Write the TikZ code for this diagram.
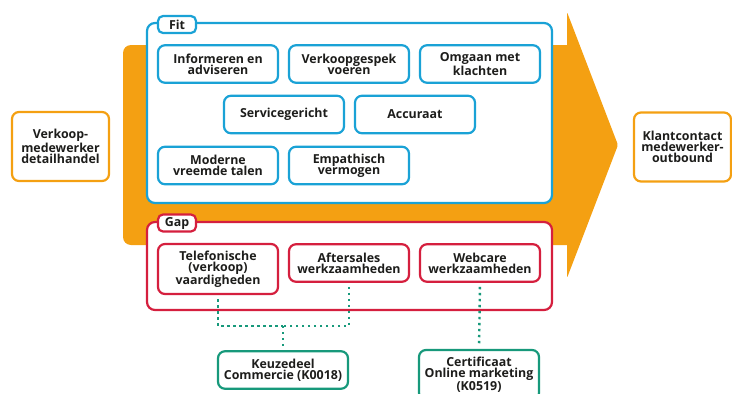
\documentclass[tikz,border=0pt]{standalone}
\usepackage{fontspec}
\setmainfont{Open Sans}
\usetikzlibrary{positioning}

\definecolor{arroworange}{HTML}{F4A012}
\definecolor{fitblue}{HTML}{1AA2D6}
\definecolor{gapred}{HTML}{D51F3E}
\definecolor{linkgreen}{HTML}{17997B}
\definecolor{textdark}{HTML}{1D1D1B}

\begin{document}
\begin{tikzpicture}[x=1pt,y=-1pt,node distance=8.8pt,
    every node/.style={font=\fontsize{12.4}{11}\selectfont\bfseries,text=textdark,align=center},
    box/.style={draw,rounded corners=7pt,line width=2.2pt,fill=white,inner sep=1pt},
    fit box/.style={box,draw=fitblue,minimum width=120pt,minimum height=37.5pt},
    gap box/.style={box,draw=gapred,minimum width=120pt,minimum height=37.5pt},
    link box/.style={box,draw=linkgreen,minimum width=120pt,minimum height=37.5pt},
    role box/.style={box,draw=arroworange,minimum width=97pt,minimum height=69pt},
    tab/.style={box,rounded corners=5pt,minimum width=38pt,minimum height=17pt},
    frame/.style={draw,rounded corners=8pt,line width=2.2pt,fill=white},
    dotline/.style={draw=linkgreen,line width=2.4pt,dash pattern=on 2.4pt off 3.6pt,shorten <=4pt}]
    \useasboundingbox (0,0) rectangle (732,394);
    \begin{scope}
    \clip (0,0) rectangle (732,394);

    % arrow
    \fill[arroworange,rounded corners=8pt] (123,45) rectangle (575,245);
    \fill[arroworange,rounded corners=2pt] (567,12) -- (618,145) -- (567,278) -- cycle;

    % fit / gap frames
    \draw[frame,draw=fitblue] (147,23) rectangle (552,203);
    \draw[frame,draw=gapred] (147,222) rectangle (552,310);
    \node[tab,draw=fitblue] (fit) at (177,24.5) {Fit};
    \node[tab,draw=gapred] (gap) at (177,223) {Gap};

    % fit
    \node[fit box] (inform) at (218,64) {Informeren en\\adviseren};
    \node[fit box,right=of inform] (gesprek) {Verkoopgespek\\voeren};
    \node[fit box,right=of gesprek] (klacht) {Omgaan met\\klachten};
    \node[fit box] (service) at (284,114.5) {Servicegericht};
    \node[fit box,right=of service] (accuraat) {Accuraat};
    \node[fit box] (talen) at (218,165.5) {Moderne\\vreemde talen};
    \node[fit box,right=of talen] (empath) {Empathisch\\vermogen};

    % gap
    \node[gap box,minimum height=50pt] (telefoon) at (218,269) {Telefonische\\(verkoop)\\vaardigheden};
    \node[gap box] (aftersales) at (349,263) {Aftersales\\werkzaamheden};
    \node[gap box,right=of aftersales] (webcare) {Webcare\\werkzaamheden};

    % keuzedelen
    \node[link box,minimum width=130pt] (keuze) at (283,370) {Keuzedeel\\Commercie (K0018)};
    \node[link box,minimum height=50pt] (certif) at (479,375) {Certificaat\\Online marketing\\(K0519)};
    \coordinate (split) at (283,326);
    \draw[dotline] (telefoon.south) |- (split);
    \draw[dotline] (aftersales.south) |- (split);
    \draw[dotline,shorten <=0pt,shorten >=4pt] (split) -- (keuze.north);
    \draw[dotline,shorten >=4pt] (webcare.south) -- (certif.north);

    % roles
    \node[role box] (van) at (60.5,146.5) {Verkoop-\\medewerker\\detailhandel};
    \node[role box] (naar) at (682.5,147) {Klantcontact\\medewerker-\\outbound};
    \end{scope}
\end{tikzpicture}
\end{document}
